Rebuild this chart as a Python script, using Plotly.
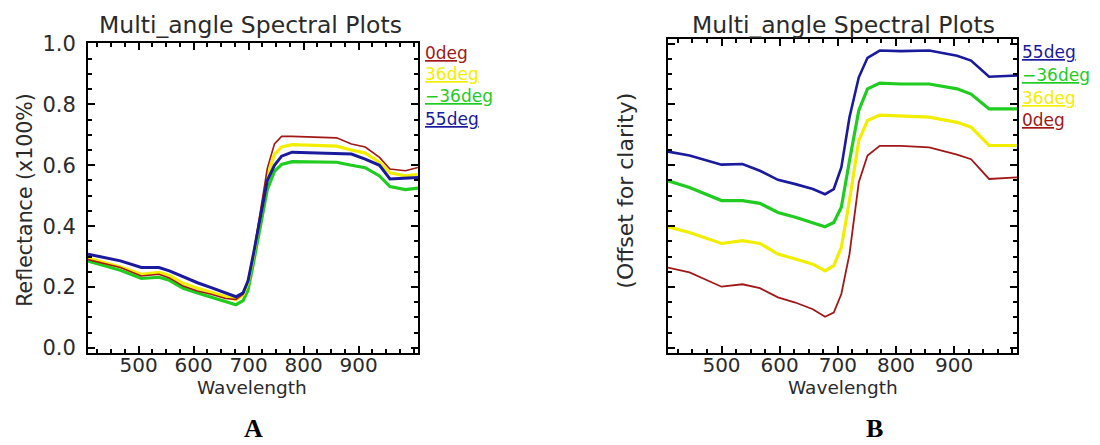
import plotly.graph_objects as go

# ---------------- Data ----------------
wl_a = [408, 441, 467, 505, 537, 556, 581, 607, 632, 658, 677, 690, 699, 709, 721,
        734, 747, 760, 779, 823, 860, 887, 912, 938, 957, 985, 1008]
a_0deg = [0.290, 0.275, 0.264, 0.236, 0.242, 0.230, 0.203, 0.187, 0.176, 0.162, 0.159,
          0.176, 0.220, 0.310, 0.440, 0.590, 0.670, 0.695, 0.695, 0.692, 0.690, 0.670,
          0.660, 0.626, 0.588, 0.582, 0.593]
a_36deg = [0.295, 0.278, 0.266, 0.242, 0.248, 0.238, 0.212, 0.196, 0.183, 0.168, 0.158,
           0.175, 0.215, 0.305, 0.430, 0.560, 0.635, 0.660, 0.668, 0.665, 0.663, 0.650,
           0.640, 0.610, 0.575, 0.565, 0.570]
a_m36deg = [0.285, 0.268, 0.255, 0.228, 0.232, 0.222, 0.196, 0.180, 0.166, 0.152, 0.142,
            0.155, 0.190, 0.280, 0.400, 0.520, 0.580, 0.603, 0.612, 0.612, 0.610, 0.600,
            0.592, 0.565, 0.530, 0.520, 0.525]
a_55deg = [0.308, 0.295, 0.286, 0.264, 0.264, 0.253, 0.233, 0.214, 0.198, 0.181, 0.168,
           0.181, 0.220, 0.310, 0.430, 0.550, 0.600, 0.630, 0.643, 0.640, 0.638, 0.637,
           0.620, 0.600, 0.555, 0.558, 0.560]

wl_b = [408, 445, 500, 536, 566, 597, 627, 657, 678, 693, 706, 720, 736, 751, 772,
        808, 857, 905, 929, 960, 1008]
b_55deg = [0.645, 0.632, 0.602, 0.604, 0.582, 0.552, 0.538, 0.522, 0.505, 0.522, 0.593,
           0.758, 0.889, 0.953, 0.977, 0.975, 0.977, 0.960, 0.944, 0.891, 0.895]
b_m36deg = [0.549, 0.527, 0.484, 0.484, 0.475, 0.445, 0.429, 0.412, 0.398, 0.412, 0.462,
            0.615, 0.780, 0.851, 0.870, 0.867, 0.867, 0.851, 0.834, 0.785, 0.785]
b_36deg = [0.398, 0.379, 0.343, 0.352, 0.343, 0.308, 0.292, 0.275, 0.253, 0.270, 0.330,
           0.484, 0.681, 0.747, 0.765, 0.763, 0.758, 0.741, 0.725, 0.665, 0.665]
b_0deg = [0.264, 0.248, 0.201, 0.209, 0.196, 0.166, 0.149, 0.127, 0.102, 0.116, 0.177,
          0.308, 0.544, 0.632, 0.664, 0.664, 0.659, 0.635, 0.620, 0.555, 0.560]

x_ticks = [500, 600, 700, 800, 900]
y_ticks = [0.0, 0.2, 0.4, 0.6, 0.8, 1.0]
y_tick_labels = ["0.0", "0.2", "0.4", "0.6", "0.8", "1.0"]

RED = "#a01818"
YEL = "#f2ee00"
GRN = "#1fcc1f"
BLU = "#1a1a9c"

FONT = "DejaVu Sans"
TXT = "#2a2a2a"

fig = go.Figure()

# Panel A (draw order: green, yellow, red, blue)
fig.add_trace(go.Scatter(x=wl_a, y=a_m36deg, mode="lines", line=dict(color=GRN, width=3.2), xaxis="x", yaxis="y"))
fig.add_trace(go.Scatter(x=wl_a, y=a_36deg, mode="lines", line=dict(color=YEL, width=3.2), xaxis="x", yaxis="y"))
fig.add_trace(go.Scatter(x=wl_a, y=a_0deg, mode="lines", line=dict(color=RED, width=1.6), xaxis="x", yaxis="y"))
fig.add_trace(go.Scatter(x=wl_a, y=a_55deg, mode="lines", line=dict(color=BLU, width=3), xaxis="x", yaxis="y"))

# Panel B
fig.add_trace(go.Scatter(x=wl_b, y=b_0deg, mode="lines", line=dict(color=RED, width=1.8), xaxis="x2", yaxis="y2"))
fig.add_trace(go.Scatter(x=wl_b, y=b_36deg, mode="lines", line=dict(color=YEL, width=3.2), xaxis="x2", yaxis="y2"))
fig.add_trace(go.Scatter(x=wl_b, y=b_m36deg, mode="lines", line=dict(color=GRN, width=3.2), xaxis="x2", yaxis="y2"))
fig.add_trace(go.Scatter(x=wl_b, y=b_55deg, mode="lines", line=dict(color=BLU, width=2.6), xaxis="x2", yaxis="y2"))

W, H = 1100, 462
# the page is photographed with a slight vertical squeeze; compensate
OFF_Y, K_Y = 10.5, 0.96


def px_x(p):
    return p / W


def px_y(p):
    return 1 - ((p - OFF_Y) / K_Y) / H


common_x = dict(
    range=[408, 1008], tickmode="array", tickvals=x_ticks, ticktext=[str(v) for v in x_ticks],
    ticks="inside", ticklen=7, tickwidth=2, tickcolor="black",
    minor=dict(dtick=25, tick0=0, ticks="inside", ticklen=4, tickwidth=1.5, tickcolor="black"),
    showline=True, linecolor="black", linewidth=2, mirror="allticks",
    showgrid=False, zeroline=False,
    tickfont=dict(family=FONT, size=20, color=TXT), ticklabelstandoff=-7,
)
common_y = dict(
    tickmode="array", tickvals=y_ticks,
    ticks="inside", ticklen=7, tickwidth=2, tickcolor="black",
    minor=dict(dtick=0.05, tick0=0, ticks="inside", ticklen=4, tickwidth=1.5, tickcolor="black"),
    showline=True, linecolor="black", linewidth=2, mirror="allticks",
    showgrid=False, zeroline=False,
    tickfont=dict(family=FONT, size=21, color=TXT), ticklabelstandoff=6,
)

fig.update_layout(
    width=W, height=H, margin=dict(l=0, r=0, t=0, b=0),
    paper_bgcolor="white", plot_bgcolor="white", showlegend=False,
    xaxis=dict(domain=[px_x(88), px_x(418)], anchor="y", **common_x),
    yaxis=dict(domain=[px_y(352), px_y(42)], anchor="x", range=[-0.0164, 1.0033],
               ticktext=y_tick_labels, **common_y),
    xaxis2=dict(domain=[px_x(668), px_x(1017)], anchor="y2", **common_x),
    yaxis2=dict(domain=[px_y(352), px_y(38)], anchor="x2", range=[-0.0164, 1.0164],
                ticktext=[""] * len(y_ticks), **common_y),
)

ann = []


def text(x, y, s, size=19, color=TXT, angle=0, family=FONT, xanchor="center"):
    ann.append(dict(x=px_x(x), y=px_y(y), xref="paper", yref="paper", text=s, showarrow=False,
                    xanchor=xanchor, yanchor="middle", textangle=angle,
                    font=dict(family=family, size=size, color=color)))


# titles
text(250, 24, "Multi_angle Spectral Plots", size=23.5)
text(844, 24, "Multi_angle Spectral Plots", size=23.5)
# axis titles
text(252, 387, "Wavelength", size=18.5)
text(843, 387, "Wavelength", size=18.5)
text(25, 200, "Reflectance (x100%)", size=20.5, angle=-90)
text(626, 190, "(Offset for clarity)", size=22, angle=-90)
# panel letters
text(253, 428, "<b>A</b>", size=26, color="black", family="Liberation Serif")
text(874, 428, "<b>B</b>", size=26, color="black", family="Liberation Serif")

# legends
legend_a = [("0deg", RED, 52), ("36deg", YEL, 73), ("\u221236deg", GRN, 95), ("55deg", BLU, 118)]
for s, c, y in legend_a:
    text(423, y, "<u>" + s + "</u>", size=17, color=c, xanchor="left")
legend_b = [("55deg", BLU, 51), ("\u221236deg", GRN, 74), ("36deg", YEL, 97), ("0deg", RED, 119)]
for s, c, y in legend_b:
    text(1020, y, "<u>" + s + "</u>", size=17, color=c, xanchor="left")

fig.update_layout(annotations=ann)

fig.write_html(
    "out.html",
    config={"displayModeBar": False},
    post_script="document.documentElement.style.margin='0';document.body.style.margin='0';"
                "document.body.style.overflow='hidden';document.documentElement.style.overflow='hidden';",
)
